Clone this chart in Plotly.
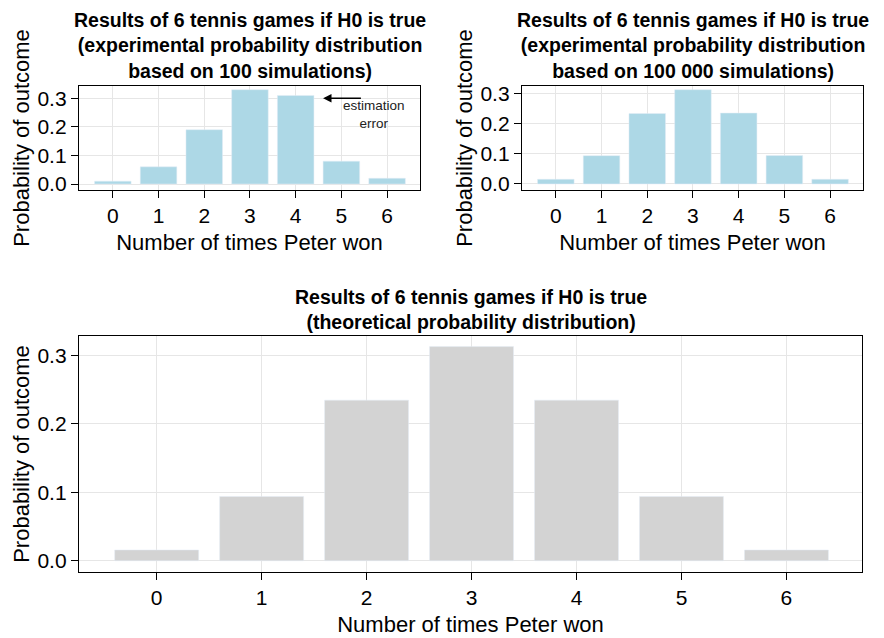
import plotly.graph_objects as go

outcomes = [0, 1, 2, 3, 4, 5, 6]
exp_100 = [0.01, 0.06, 0.19, 0.33, 0.31, 0.08, 0.02]
exp_100000 = [0.0157, 0.0938, 0.2335, 0.3122, 0.2350, 0.0942, 0.0156]
theoretical = [0.015625, 0.09375, 0.234375, 0.3125, 0.234375, 0.09375, 0.015625]

title_top_left = "Results of 6 tennis games if H0 is true<br>(experimental probability distribution<br>based on 100 simulations)"
title_top_right = "Results of 6 tennis games if H0 is true<br>(experimental probability distribution<br>based on 100 000 simulations)"
title_bottom = "Results of 6 tennis games if H0 is true<br>(theoretical probability distribution)"
x_title = "Number of times Peter won"
y_title = "Probability of outcome"

# the page body has an 8px margin; figure fills the rest of the 884x638 window
OFF = 8
W, H = 884 - OFF, 638 - OFF
FONT = "Liberation Sans, Arial, sans-serif"
BLUE = "#ADD8E6"
GRAY = "#D3D3D3"
GRID = "#E6E6E6"


def px(x):
    return (x - OFF) / W


def py(y):
    return 1 - (y - OFF) / H


fig = go.Figure()
fig.add_trace(go.Bar(x=outcomes, y=exp_100, marker_color=BLUE, width=0.8,
                     xaxis="x", yaxis="y", showlegend=False))
fig.add_trace(go.Bar(x=outcomes, y=exp_100000, marker_color=BLUE, width=0.8,
                     xaxis="x2", yaxis="y2", showlegend=False))
fig.add_trace(go.Bar(x=outcomes, y=theoretical, marker_color=GRAY, width=0.8,
                     xaxis="x3", yaxis="y3", showlegend=False))

common_x = dict(
    tickmode="array", tickvals=outcomes, ticktext=[str(o) for o in outcomes],
    showgrid=True, gridcolor=GRID, gridwidth=1,
    showline=True, linecolor="black", linewidth=1.3, mirror=True,
    ticks="outside", ticklen=7, tickcolor="black", tickwidth=1,
    tickfont=dict(size=21, color="black", family=FONT),
    zeroline=False, automargin=False,
    title=dict(text=x_title, font=dict(size=22, color="black", family=FONT), standoff=8),
)
common_y = dict(
    tickmode="array", tickvals=[0, 0.1, 0.2, 0.3], ticktext=["0.0", "0.1", "0.2", "0.3"],
    showgrid=True, gridcolor=GRID, gridwidth=1,
    showline=True, linecolor="black", linewidth=1.3, mirror=True,
    ticks="outside", ticklen=7, tickcolor="black", tickwidth=1,
    tickfont=dict(size=21, color="black", family=FONT),
    zeroline=False, automargin=False,
    title=dict(text=y_title, font=dict(size=22, color="black", family=FONT), standoff=1),
)

fig.update_layout(
    width=W, height=H,
    margin=dict(l=0, r=0, t=0, b=0, autoexpand=False),
    paper_bgcolor="white", plot_bgcolor="white",
    font=dict(family=FONT, color="black"),
    bargap=0.2,
    xaxis=dict(common_x, domain=[px(79), px(420)], range=[-0.74, 6.72], anchor="y"),
    yaxis=dict(common_y, domain=[py(190), py(86)], range=[-0.021, 0.343], anchor="x"),
    xaxis2=dict(common_x, domain=[px(522), px(863)], range=[-0.74, 6.72], anchor="y2"),
    yaxis2=dict(common_y, domain=[py(190), py(86)], range=[-0.02, 0.3245], anchor="x2"),
    xaxis3=dict(common_x, domain=[px(79), px(862)], range=[-0.74, 6.72], anchor="y3"),
    yaxis3=dict(common_y, domain=[py(572), py(336)], range=[-0.0165, 0.328], anchor="x3"),
)

title_font = dict(size=19.5, color="black", family=FONT)
fig.add_annotation(text="<b>" + title_top_left.replace("<br>", "</b><br><b>") + "</b>",
                   xref="paper", yref="paper", x=(px(79) + px(420)) / 2, y=py(45),
                   xanchor="center", yanchor="middle", showarrow=False, font=title_font)
fig.add_annotation(text="<b>" + title_top_right.replace("<br>", "</b><br><b>") + "</b>",
                   xref="paper", yref="paper", x=(px(522) + px(863)) / 2, y=py(45),
                   xanchor="center", yanchor="middle", showarrow=False, font=title_font)
fig.add_annotation(text="<b>" + title_bottom.replace("<br>", "</b><br><b>") + "</b>",
                   xref="paper", yref="paper", x=(px(79) + px(862)) / 2, y=py(309.5),
                   xanchor="center", yanchor="middle", showarrow=False, font=title_font)

# estimation error arrow
fig.add_annotation(x=4.6, y=0.30, ax=5.46, ay=0.30, xref="x", yref="y", axref="x", ayref="y",
                   text="", showarrow=True, arrowhead=2, arrowsize=1.2, arrowwidth=1.4,
                   arrowcolor="black")
fig.add_annotation(x=5.72, y=0.245, xref="x", yref="y", text="estimation<br>error",
                   showarrow=False, font=dict(size=13.5, color="#222", family=FONT),
                   xanchor="center", yanchor="middle")

fig.write_html("out.html")
